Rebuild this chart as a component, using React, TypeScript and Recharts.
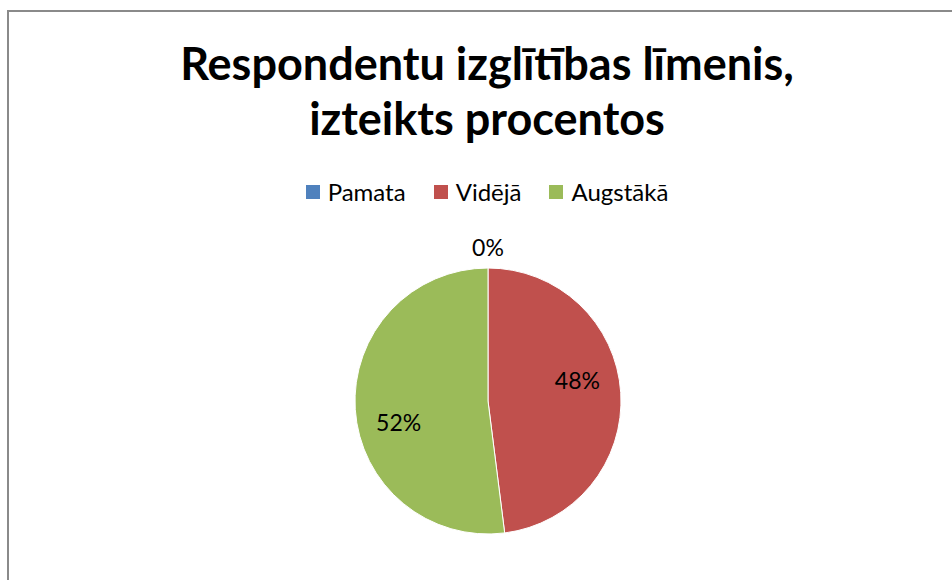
import React from 'react';
import { PieChart, Pie, Cell, Legend } from 'recharts';

const categories = ['Pamata', 'Vidējā', 'Augstākā'];
const shares = [0, 48, 52];
const colors = ['#4F81BD', '#C0504D', '#9BBB59'];
const titleLines = ['Respondentu izglītības līmenis,', 'izteikts procentos'];

const data = categories.map((name, i) => ({ name, value: shares[i] }));

const FONT = 'Lato, "Open Sans", sans-serif';
const RADIAN = Math.PI / 180;

function renderLabel(props: any) {
  const { cx, cy, midAngle, outerRadius, value } = props;
  // zero slices get pushed outside the pie, the rest sit inside (Excel nudges them round a bit)
  const r = value === 0 ? outerRadius + 21 : outerRadius * 0.69;
  const angle = value === 0 ? midAngle : midAngle + 9.5;
  const x = cx + r * Math.cos(-angle * RADIAN);
  const y = cy + r * Math.sin(-angle * RADIAN);
  return (
    <text
      x={x}
      y={y}
      fill="#000"
      textAnchor="middle"
      dominantBaseline="central"
      fontFamily={FONT}
      fontSize={23}
    >
      {`${value}%`}
    </text>
  );
}

function renderLegend(props: any) {
  const payload = [...(props.payload || [])].sort(
    (a: any, b: any) => categories.indexOf(a.value) - categories.indexOf(b.value)
  );
  return (
    <div style={{ display: 'flex', justifyContent: 'center', fontFamily: FONT, fontSize: 24, color: '#000' }}>
      {payload.map((entry: any, idx: number) => (
        <div key={idx} style={{ display: 'flex', alignItems: 'center', marginRight: idx < payload.length - 1 ? 28 : 0 }}>
          <span style={{ display: 'inline-block', width: 14, height: 14, background: entry.color, marginRight: 8 }} />
          <span>{entry.value}</span>
        </div>
      ))}
    </div>
  );
}

export default function App() {
  return (
    <div style={{ position: 'fixed', top: 0, left: 0, width: 952, height: 580, overflow: 'hidden', background: '#fff' }}>
      <div
        style={{
          position: 'absolute',
          left: 7,
          top: 10,
          width: 1000,
          height: 700,
          border: '2px solid #8a8a8a',
          boxSizing: 'border-box',
        }}
      />
      <div
        style={{
          position: 'absolute',
          top: 36,
          left: 7,
          width: 960,
          textAlign: 'center',
          fontFamily: FONT,
          fontWeight: 700,
          fontSize: 45,
          lineHeight: '55px',
          color: '#000',
        }}
      >
        {titleLines.map((line) => (
          <div key={line}>{line}</div>
        ))}
      </div>
      <PieChart width={952} height={580} margin={{ top: 0, right: 0, bottom: 0, left: 0 }} style={{ position: 'absolute', top: 0, left: 0 }}>
        <Pie
          data={data}
          dataKey="value"
          nameKey="name"
          cx={488}
          cy={401}
          outerRadius={133}
          startAngle={90}
          endAngle={-270}
          stroke="#fff"
          strokeWidth={1}
          label={renderLabel}
          labelLine={false}
          isAnimationActive={false}
        >
          {data.map((entry, idx) => (
            <Cell key={entry.name} fill={colors[idx]} />
          ))}
        </Pie>
        <Legend
          layout="horizontal"
          verticalAlign="middle"
          align="center"
          content={renderLegend}
          wrapperStyle={{ top: 177, left: 7, width: 960 }}
        />
      </PieChart>
    </div>
  );
}
